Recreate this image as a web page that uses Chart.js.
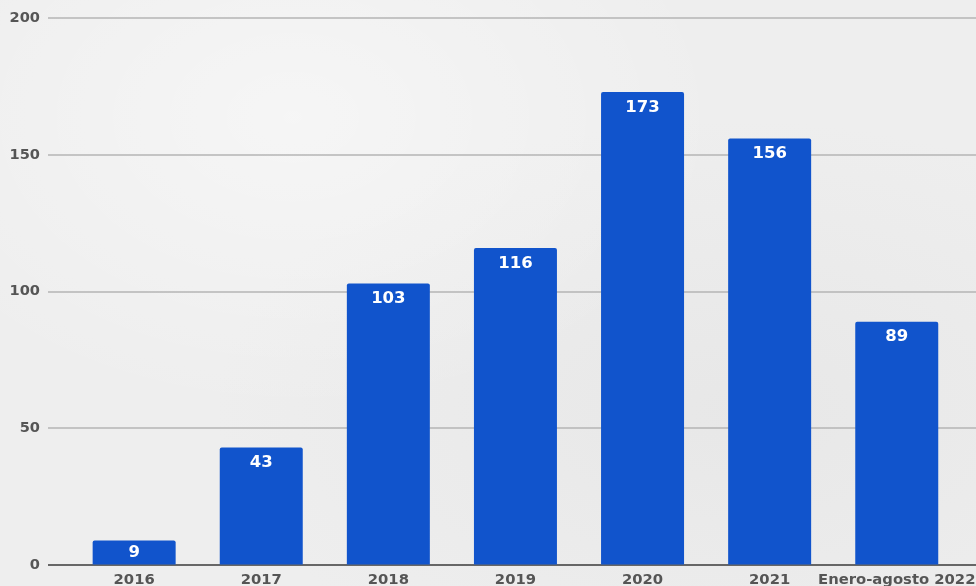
<!DOCTYPE html>
<html>
<head>
<meta charset="utf-8">
<script src="https://cdn.jsdelivr.net/npm/chart.js@4"></script>
<style>
    html, body { margin: 0; padding: 0; overflow: hidden; }
    body {
        width: 976px; height: 586px;
        background: #eeeeee;
        background-image:
            radial-gradient(ellipse at 30% 20%, rgba(255,255,255,0.45), rgba(255,255,255,0) 45%),
            radial-gradient(ellipse at 75% 70%, rgba(225,225,225,0.5), rgba(225,225,225,0) 50%);
    }
    canvas { display: block; }
</style>
</head>
<body>
<canvas id="barChart" width="976" height="600" style="width:976px;height:600px"></canvas>
<script>
// Data
const categories = ['2016', '2017', '2018', '2019', '2020', '2021', 'Enero-agosto 2022'];
const values = [9, 43, 103, 116, 173, 156, 89];
const yTicks = [0, 50, 100, 150, 200];

const barColor = '#1154cc';
const fontFamily = '"DejaVu Sans", Verdana, sans-serif';

// Horizontal grid lines run the full width, past the bar area
const gridPlugin = {
    id: 'fullGrid',
    beforeDatasetsDraw(chart) {
        const ctx = chart.ctx;
        const y = chart.scales.y;
        ctx.save();
        yTicks.forEach(v => {
            const py = Math.round(y.getPixelForValue(v));
            ctx.beginPath();
            ctx.moveTo(48, py);
            ctx.lineTo(chart.width, py);
            ctx.lineWidth = 1.5;
            ctx.strokeStyle = v === 0 ? '#3a3a3a' : '#b4b4b4';
            ctx.stroke();
        });
        ctx.restore();
    }
};

// White value labels near the top of each bar
const valueLabels = {
    id: 'valueLabels',
    afterDatasetsDraw(chart) {
        const ctx = chart.ctx;
        const meta = chart.getDatasetMeta(0);
        ctx.save();
        ctx.fillStyle = '#ffffff';
        ctx.font = 'bold 16.5px ' + fontFamily;
        ctx.textAlign = 'center';
        ctx.textBaseline = 'middle';
        meta.data.forEach((bar, i) => {
            const h = bar.base - bar.y;
            const off = Math.min(15.5, h / 2);
            ctx.fillText(String(values[i]), bar.x, bar.y + off);
        });
        ctx.restore();
    }
};

const ctx = document.getElementById('barChart').getContext('2d');
const chart = new Chart(ctx, {
    type: 'bar',
    data: {
        labels: categories,
        datasets: [{
            data: values,
            backgroundColor: barColor,
            borderRadius: { topLeft: 2, topRight: 2 },
            borderSkipped: 'bottom',
            barPercentage: 0.653,
            categoryPercentage: 1
        }]
    },
    options: {
        responsive: false,
        animation: false,
        layout: { padding: { top: 18.3, right: 15.7, left: 0, bottom: 0 } },
        plugins: {
            legend: { display: false },
            tooltip: { enabled: false }
        },
        scales: {
            x: {
                grid: { display: false, drawTicks: false },
                border: { display: false },
                ticks: {
                    padding: 6,
                    color: '#555555',
                    maxRotation: 0,
                    autoSkip: false,
                    font: { family: fontFamily, size: 14.8, weight: 'bold' }
                },
                afterFit(scale) {
                    scale.height = 35;
                    scale.paddingLeft = 0;
                    scale.paddingRight = 0;
                }
            },
            y: {
                min: 0,
                max: 200,
                // invisible ticks push the labels left without adding vertical padding
                grid: { display: true, drawOnChartArea: false, drawTicks: true, tickLength: 30.6, color: 'rgba(0,0,0,0)' },
                border: { display: false },
                afterBuildTicks(scale) { scale.ticks = yTicks.map(v => ({ value: v })); },
                ticks: {
                    padding: 0,
                    color: '#555555',
                    font: { family: fontFamily, size: 14.6, weight: 'bold' }
                },
                afterFit(scale) { scale.width = 70.6; }
            }
        }
    },
    plugins: [gridPlugin, valueLabels]
});
</script>
</body>
</html>
